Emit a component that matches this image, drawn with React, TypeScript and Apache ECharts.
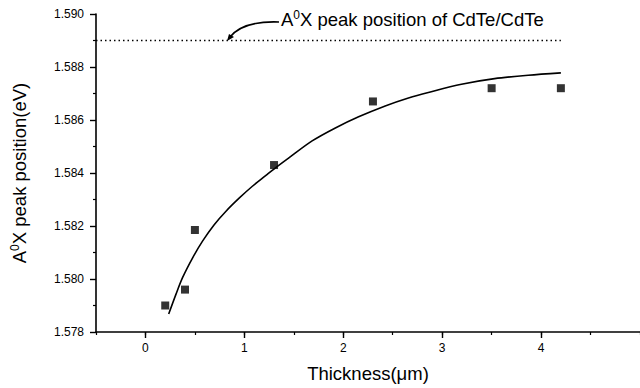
import React, { useEffect, useRef } from "react";
import * as echarts from "echarts";

const thickness = [0.2, 0.4, 0.5, 1.3, 2.3, 3.5, 4.2];
const peakPosition = [1.5790, 1.5796, 1.58185, 1.5843, 1.5867, 1.5872, 1.5872];

const fitX = [0.235, 0.309, 0.376, 0.477, 0.577, 0.695, 0.812, 0.947, 1.081, 1.215, 1.299, 1.45, 1.685, 1.92, 2.155, 2.424, 2.659, 2.86, 3.195, 3.53, 3.87, 4.2];
const fitY = [1.57868, 1.57943, 1.58006, 1.5808, 1.58143, 1.58205, 1.58255, 1.58305, 1.5835, 1.5839, 1.58415, 1.58457, 1.58521, 1.5857, 1.58612, 1.58653, 1.58683, 1.58704, 1.58735, 1.58756, 1.58769, 1.58778];

const refX = [-0.5, 4.2];
const refY = [1.589, 1.589];

const xTickLabels = [0, 1, 2, 3, 4];

export default function App() {
  const ref = useRef<HTMLDivElement>(null);
  useEffect(() => {
    if (!ref.current) return;
    const chart = echarts.init(ref.current, undefined, { renderer: "svg" });
    const font = "'Liberation Sans', Arial, sans-serif";
    chart.setOption({
      animation: false,
      backgroundColor: "#ffffff",
      textStyle: { fontFamily: font, color: "#000" },
      grid: { left: 96, right: -2, top: 14, bottom: 53, containLabel: false },
      xAxis: [
        {
          type: "value",
          min: -0.5,
          max: 5,
          interval: 0.5,
          name: "Thickness(\u03bcm)",
          nameLocation: "middle",
          nameGap: 32,
          nameTextStyle: { fontSize: 18.5, color: "#000", fontFamily: font },
          axisLine: { show: true, onZero: false, lineStyle: { color: "#000", width: 1.6 } },
          axisTick: { show: true, customValues: xTickLabels, length: 6, inside: false, lineStyle: { color: "#000", width: 1.4 } },
          axisLabel: { customValues: xTickLabels, margin: 10, fontSize: 12, color: "#000", fontFamily: font },
          splitLine: { show: false },
        },
        {
          type: "value",
          min: -0.5,
          max: 5,
          interval: 0.5,
          position: "bottom",
          axisLine: { show: false },
          axisTick: { show: true, length: 3, lineStyle: { color: "#000", width: 1.2 } },
          axisLabel: { show: false },
          splitLine: { show: false },
        },
      ],
      yAxis: {
        type: "value",
        min: 1.578,
        max: 1.59,
        interval: 0.002,
        name: "{a|A}{s|0}{a|X peak position(eV)}",
        nameLocation: "middle",
        nameGap: 66,
        nameRotate: 90,
        nameTextStyle: {
          rich: {
            a: { fontSize: 18.5, color: "#000", fontFamily: font },
            s: { fontSize: 12, color: "#000", fontFamily: font, verticalAlign: "top", padding: [0, 0, 9, 0] },
          },
        },
        axisLine: { show: true, onZero: false, lineStyle: { color: "#000", width: 1.6 } },
        axisTick: { show: true, length: 6, lineStyle: { color: "#000", width: 1.4 } },
        minorTick: { show: true, splitNumber: 2, length: 3, lineStyle: { color: "#000", width: 1.2 } },
        axisLabel: {
          margin: 12,
          fontSize: 12,
          color: "#000",
          fontFamily: font,
          formatter: (v: number) => v.toFixed(3),
        },
        splitLine: { show: false },
      },
      series: [
        {
          type: "line",
          data: refX.map((x, i) => [x, refY[i]]),
          showSymbol: false,
          symbol: "none",
          lineStyle: { color: "#000", width: 1.4, type: [1.5, 3] },
          silent: true,
        },
        {
          type: "line",
          data: fitX.map((x, i) => [x, fitY[i]]),
          smooth: 0.3,
          showSymbol: false,
          symbol: "none",
          lineStyle: { color: "#000", width: 1.6 },
          silent: true,
        },
        {
          type: "scatter",
          data: thickness.map((x, i) => [x, peakPosition[i]]),
          symbol: "rect",
          symbolSize: 8,
          itemStyle: { color: "#000" },
        },
      ],
      graphic: [
        {
          type: "text",
          left: 281,
          top: 9,
          style: {
            text: "{a|A}{s|0}{a|X peak position of CdTe/CdTe}",
            rich: {
              a: { fontSize: 18.5, fill: "#000", fontFamily: font },
              s: { fontSize: 12, fill: "#000", fontFamily: font, verticalAlign: "top", padding: [0, 0, 9, 0] },
            },
          },
        },
        {
          type: "bezierCurve",
          shape: { x1: 279, y1: 22, cpx1: 252, cpy1: 21, cpx2: 238, cpy2: 27, x2: 230, y2: 37 },
          style: { stroke: "#000", lineWidth: 1.6, fill: null },
        },
        {
          type: "polygon",
          shape: { points: [[227, 41], [229, 34], [234, 37]] },
          style: { fill: "#000" },
        },
      ],
    });
    return () => chart.dispose();
  }, []);
  return (
    <div
      ref={ref}
      style={{ position: "absolute", left: 0, top: 0, width: 640, height: 388 }}
    />
  );
}
